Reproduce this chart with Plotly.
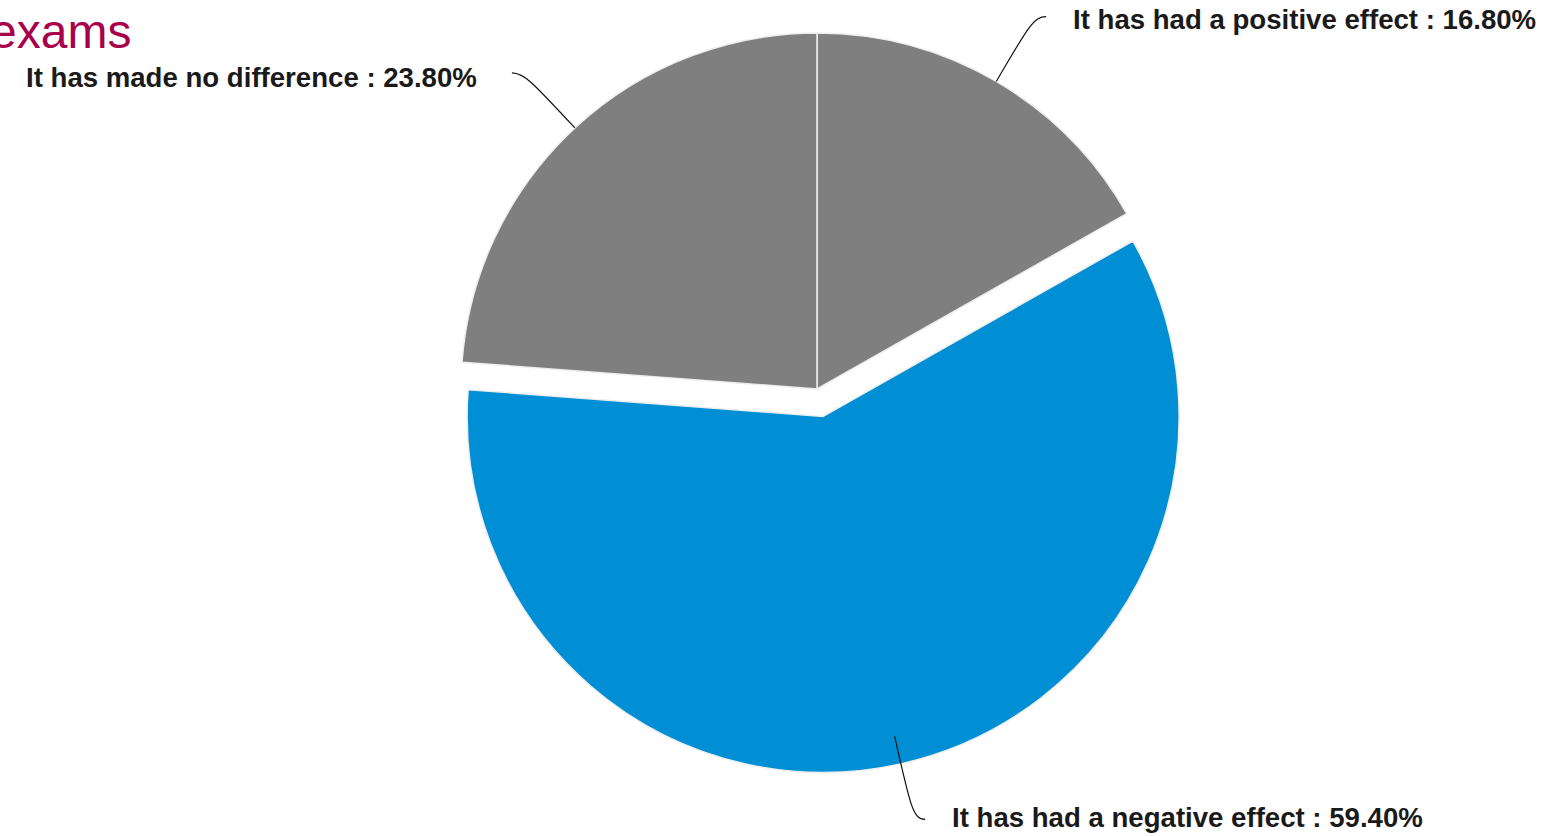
import math
import plotly.graph_objects as go

# ---- data ----
categories = ["It has had a positive effect", "It has had a negative effect", "It has made no difference"]
values = [16.8, 59.4, 23.8]
colors = ["#7F7F7F", "#008FD5", "#7F7F7F"]
pulls = [0, 0.079, 0]
title_text = "exams"

# ---- layout geometry (pixels) ----
W, H = 1550, 836
CX, CY, R = 817, 389, 356
maxpull = max(pulls)
box = 2 * R * (1 + maxpull)
dom_x = [(CX - box / 2) / W, (CX + box / 2) / W]
dom_y = [1 - (CY + box / 2) / H, 1 - (CY - box / 2) / H]

fig = go.Figure(go.Pie(
    labels=categories,
    values=values,
    marker=dict(colors=colors, line=dict(color="#EEEEEE", width=1.5)),
    pull=pulls,
    sort=False,
    direction="clockwise",
    rotation=0,
    textinfo="none",
    hoverinfo="label+percent",
    showlegend=False,
    domain=dict(x=dom_x, y=dom_y),
))

def px2paper(x, y):
    return x / W, 1 - y / H

shapes = []
annotations = []
total = sum(values)
cum = 0.0
leader_len = [75, 85, 75]   # radial length of each leader (px)
HOOK = 12                   # horizontal hook
label_dy = [3, -2, 5]
for lab, v, dy, LR in zip(categories, values, label_dy, leader_len):
    mid = (cum + v / 2) / total * 2 * math.pi
    cum += v
    dx_, dy_ = math.sin(mid), -math.cos(mid)
    p0 = (CX + R * dx_, CY + R * dy_)
    p1 = (CX + (R + LR) * dx_, CY + (R + LR) * dy_)
    side = 1 if dx_ >= 0 else -1
    p2 = (p1[0] + side * HOOK, p1[1])
    c1 = (p0[0] + dx_ * LR * 0.85, p0[1] + dy_ * LR * 0.85)
    pts = [px2paper(*p) for p in (p0, c1, p1, p2)]
    path = "M {} {} C {} {}, {} {}, {} {}".format(
        pts[0][0], pts[0][1], pts[1][0], pts[1][1], pts[2][0], pts[2][1], pts[3][0], pts[3][1])
    shapes.append(dict(type="path", xref="paper", yref="paper", path=path,
                       line=dict(color="#111111", width=1.2)))
    pct = v / total * 100
    lx = p2[0] + side * (25 if side > 0 else 33)
    ly = p2[1] + dy
    ax, ay = px2paper(lx, ly)
    annotations.append(dict(
        x=ax, y=ay, xref="paper", yref="paper", showarrow=False,
        xanchor="left" if side > 0 else "right", yanchor="middle",
        text="<b>{} : {:.2f}%</b>".format(lab, pct),
        font=dict(family="Liberation Sans, Arial, sans-serif", size=27.6, color="#1A1A1A"),
    ))

tx, ty = px2paper(-12, 32)
annotations.append(dict(
    x=tx, y=ty, xref="paper", yref="paper", showarrow=False,
    xanchor="left", yanchor="middle", text=title_text,
    font=dict(family="Liberation Sans, Arial, sans-serif", size=48, color="#A8004A"),
))

fig.update_layout(
    width=W, height=H,
    margin=dict(l=0, r=0, t=0, b=0),
    paper_bgcolor="white", plot_bgcolor="white",
    shapes=shapes, annotations=annotations,
)

fig.write_html("out.html", config={"displayModeBar": False},
               post_script="document.body.style.margin='0';document.body.style.overflow='hidden';")
